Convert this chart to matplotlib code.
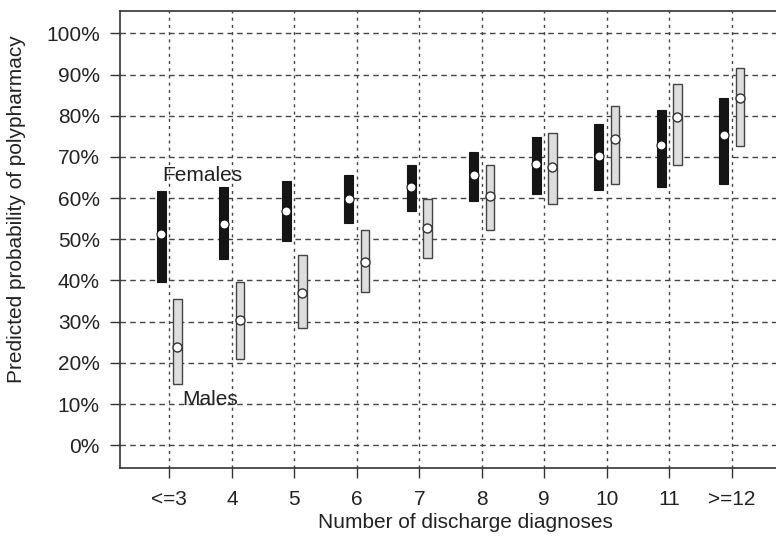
import numpy as np
import matplotlib
matplotlib.use("Agg")
from matplotlib import pyplot as plt

plt.rcParams['font.family'] = ['Liberation Sans', 'DejaVu Sans']

categories = ["<=3", "4", "5", "6", "7", "8", "9", "10", "11", ">=12"]

# predicted probability (%) with lower / upper limits
female_est = [51.2, 53.7, 56.9, 59.9, 62.8, 65.5, 68.3, 70.3, 73.0, 75.3]
female_low = [39.7, 45.1, 49.7, 53.9, 56.8, 59.4, 60.9, 61.9, 62.7, 63.5]
female_high = [61.8, 62.7, 64.1, 65.6, 68.0, 71.1, 74.8, 78.0, 81.5, 84.2]

male_est = [23.9, 30.4, 37.0, 44.5, 52.7, 60.5, 67.6, 74.3, 79.7, 84.4]
male_low = [14.9, 20.9, 28.5, 37.2, 45.5, 52.3, 58.6, 63.5, 68.1, 72.7]
male_high = [35.4, 39.7, 46.1, 52.3, 59.8, 68.1, 75.9, 82.4, 87.8, 91.7]

x = np.arange(1, len(categories) + 1)
off = 0.13
w = 0.14

fig = plt.figure(figsize=(7.76, 5.43), dpi=100)
ax = fig.add_axes([0.1546, 0.1376, 0.852, 0.8427])

# grid
for v in range(0, 101, 10):
    ax.axhline(v, color='#444444', lw=1, dashes=(4, 3), zorder=0)
for xi in x:
    ax.axvline(xi, color='#444444', lw=1, dashes=(2.2, 3), zorder=0)

fl = np.array(female_low)
fh = np.array(female_high)
ml = np.array(male_low)
mh = np.array(male_high)

ax.bar(x - off, fh - fl, w, bottom=fl, color='#151515', edgecolor='#151515',
       lw=0.8, zorder=2)
ax.bar(x + off, mh - ml, w, bottom=ml, color='#dddddd', edgecolor='#444444',
       lw=1, zorder=2)
ax.plot(x - off, female_est, 'o', ms=6.5, mfc='white', mec='#151515', mew=0.8,
        zorder=3)
ax.plot(x + off, male_est, 'o', ms=6.5, mfc='white', mec='#333333', mew=1,
        zorder=3)

ax.text(0.88, 65.6, "Females", fontsize=15, ha='left', va='center',
        color='#222222', zorder=4)
ax.text(1.2, 11.2, "Males", fontsize=15, ha='left', va='center',
        color='#222222', zorder=4)

ax.set_xlim(0.21, 10.79)
ax.set_ylim(-5.6, 105.5)
ax.set_xticks(x)
ax.set_xticklabels(categories)
ax.set_yticks(range(0, 101, 10))
ax.set_yticklabels(["%d%%" % v for v in range(0, 101, 10)])
ax.tick_params(direction='out', length=7.5, width=1, color='#333333',
               labelsize=15, labelcolor='#222222')
ax.tick_params(axis='x', pad=8)
ax.tick_params(axis='y', pad=7)

for s in ['left', 'bottom', 'top']:
    ax.spines[s].set_color('#333333')
    ax.spines[s].set_linewidth(1.2)
ax.spines['right'].set_visible(False)

fig.text(465 / 776, 1 - 523 / 543, "Number of discharge diagnoses",
         fontsize=15, color='#222222', ha='center', va='center')
fig.text(17 / 776, 1 - 209 / 543, "Predicted probability of polypharmacy",
         fontsize=15, color='#222222', ha='center', va='center',
         rotation=90)

fig.savefig("out.png", dpi=100)
